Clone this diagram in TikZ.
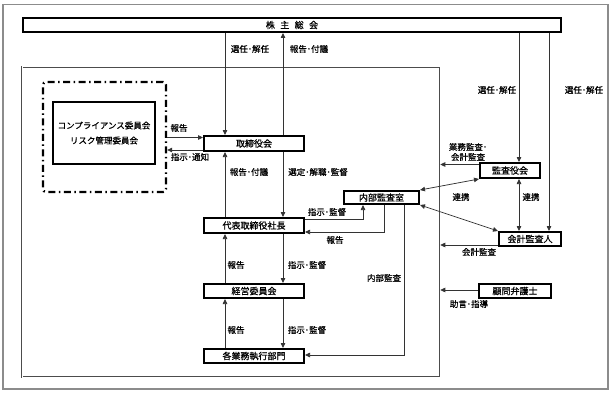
\documentclass[tikz,border=0pt]{standalone}
\usepackage{fontspec}
\setmainfont{Noto Sans CJK JP}[FakeBold=0.7]
\usetikzlibrary{arrows.meta}
\begin{document}
\begin{tikzpicture}[x=1pt,y=-1pt,
  box/.style={draw,line width=2pt,fill=white,inner sep=0pt,font=\fontsize{9}{10}\selectfont},
  tip/.tip={Triangle[length=5pt,width=4.5pt]},
  arr/.style={draw=black!80,line width=0.75pt,-tip},
  dbl/.style={draw=black!80,line width=0.75pt,tip-tip},
  lbl/.style={font=\fontsize{8.5}{9}\selectfont,inner sep=0pt}]
\useasboundingbox (0,0) rectangle (613,396);
% outer frame
\node[draw=black!45,line width=1.4pt,minimum width=605pt,minimum height=384.5pt,inner sep=0pt] (outer) at (305.5,196.75) {};
% inner double frame
\node[draw=black!70,double,double distance=1pt,line width=0.5pt,minimum width=418pt,minimum height=310pt,inner sep=0pt] (frame) at (231,222) {};
% boxes
\node[box,minimum width=538pt,minimum height=14pt] (sokai) at (292,25) {株\hspace{0.6em}主\hspace{0.6em}総\hspace{0.6em}会};
\node[box,minimum width=100pt,minimum height=15pt] (tori) at (254,143.5) {取締役会};
\node[box,minimum width=100pt,minimum height=15pt] (shacho) at (254,225.5) {代表取締役社長};
\node[box,minimum width=100pt,minimum height=14pt] (keiei) at (254,291) {経営委員会};
\node[box,minimum width=100pt,minimum height=14pt] (kaku) at (254,356) {各業務執行部門};
\node[box,minimum width=75pt,minimum height=13pt] (naibu) at (381.5,197.5) {内部監査室};
\node[box,minimum width=60pt,minimum height=15pt] (kansa) at (510,170.5) {監査役会};
\node[box,minimum width=62pt,minimum height=14pt] (kaikei) at (530,239) {会計監査人};
\node[box,minimum width=72pt,minimum height=14pt] (komon) at (515,291) {顧問弁護士};
\node[draw,line width=2.3pt,rounded corners=3pt,dash pattern=on 7pt off 3.5pt on 1.5pt off 3.5pt,minimum width=123pt,minimum height=110pt,inner sep=0pt] (dash) at (104.5,137) {};
\node[box,minimum width=102pt,minimum height=62pt,align=center,font=\fontsize{8.5}{15}\selectfont] (comm) at (104,133) {コンプライアンス委員会\\リスク管理委員会};
% connectors
\draw[arr] (sokai.south -| 225,0) -- (tori.north -| 225,0);
\draw[arr] (tori.north -| 283,0) -- (sokai.south -| 283,0);
\draw[arr] (sokai.south -| 519,0) -- (kansa.north -| 519,0);
\draw[arr] (sokai.south -| 549,0) -- (kaikei.north -| 549,0);
\draw[arr] (dash.east |- 0,137.5) -- (tori.west |- 0,137.5);
\draw[arr] (tori.west |- 0,150) -- (dash.east |- 0,150);
\draw[arr] (shacho.north -| 225,0) -- (tori.south -| 225,0);
\draw[arr] (tori.south -| 283,0) -- (shacho.north -| 283,0);
\draw[arr] (shacho.east |- 0,219) -| (naibu.south -| 363,0);
\draw[arr] (naibu.south -| 384,0) |- (shacho.east |- 0,232);
\draw[arr] (naibu.south -| 404,0) |- (kaku.east |- 0,355);
\draw[arr] (keiei.north -| 225,0) -- (shacho.south -| 225,0);
\draw[arr] (shacho.south -| 283,0) -- (keiei.north -| 283,0);
\draw[arr] (kaku.north -| 225,0) -- (keiei.south -| 225,0);
\draw[arr] (keiei.south -| 283,0) -- (kaku.north -| 283,0);
\draw[arr] (kansa.west |- 0,164.5) -- (frame.east |- 0,164.5);
\draw[dbl] (naibu.north east) -- (kansa.south west);
\draw[dbl] (naibu.south east) -- (kaikei.north west);
\draw[dbl] (kansa.south -| 519,0) -- (kaikei.north -| 519,0);
\draw[arr] (kaikei.west |- 0,245) -- (frame.east |- 0,245);
\draw[arr] (komon.west |- 0,290) -- (frame.east |- 0,290);
% labels
\node[lbl] (l1) at (250,49) {選任･解任};
\node[lbl] (l2) at (309,49) {報告･付議};
\node[lbl] (l3) at (497,90) {選任･解任};
\node[lbl] (l4) at (584,90) {選任･解任};
\node[lbl] (l5) at (179,128) {報告};
\node[lbl] (l6) at (190,157) {指示･通知};
\node[lbl] (l7) at (249,172) {報告･付議};
\node[lbl] (l8) at (318,172) {選定･解職･監督};
\node[lbl,align=center,font=\fontsize{8.5}{10}\selectfont] (l9) at (468,152) {業務監査･\\会計監査};
\node[lbl] (l10) at (461,197) {連携};
\node[lbl] (l11) at (531,197) {連携};
\node[lbl] (l12) at (327,212) {指示･監督};
\node[lbl] (l13) at (335,240) {報告};
\node[lbl] (l14) at (236,265) {報告};
\node[lbl] (l15) at (307,265) {指示･監督};
\node[lbl] (l16) at (384,278) {内部監査};
\node[lbl] (l17) at (236,330) {報告};
\node[lbl] (l18) at (307,330) {指示･監督};
\node[lbl] (l19) at (479,252) {会計監査};
\node[lbl] (l20) at (469,304) {助言･指導};
\end{tikzpicture}
\end{document}
